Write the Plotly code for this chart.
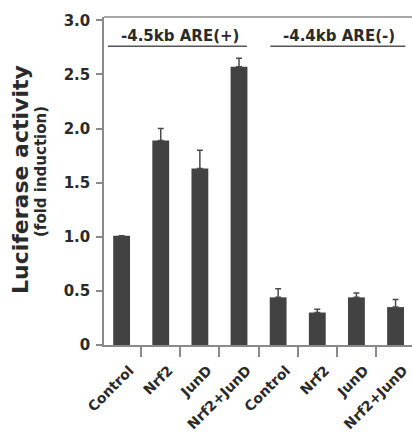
import plotly.graph_objects as go

labels = ["Control", "Nrf2", "JunD", "Nrf2+JunD", "Control", "Nrf2", "JunD", "Nrf2+JunD"]
values = [1.01, 1.89, 1.63, 2.57, 0.44, 0.30, 0.44, 0.35]
errors = [None, 0.11, 0.17, 0.08, 0.08, 0.03, 0.04, 0.07]
y_ticks = [0, 0.5, 1.0, 1.5, 2.0, 2.5, 3.0]
y_ticktext = ["0", "0.5", "1.0", "1.5", "2.0", "2.5", "3.0"]
groups = ["-4.5kb ARE(+)", "-4.4kb ARE(-)"]

xs = list(range(len(labels)))
FONT = "DejaVu Sans, sans-serif"
AX = "#8a8a8a"
TXT = "#2a2a2a"

W, H = 412, 432
L, R, T, B = 104, 0, 17, 87
pw, ph = W - L - R, H - T - B

fig = go.Figure()
fig.add_trace(go.Bar(
    x=xs, y=values, width=0.43,
    marker=dict(color="#424242", line=dict(width=0)),
    error_y=dict(type="data", array=errors, arrayminus=[0]*len(errors),
                 symmetric=False, color="#4a4a4a", thickness=1.5, width=3),
    showlegend=False,
))

# group headers with underline
fig.add_annotation(x=1.5, y=2.85, xref="x", yref="y", text="<b>" + groups[0] + "</b>",
                   showarrow=False, font=dict(family=FONT, size=15, color=TXT))
fig.add_annotation(x=5.55, y=2.85, xref="x", yref="y", text="<b>" + groups[1] + "</b>",
                   showarrow=False, font=dict(family=FONT, size=15, color=TXT))
fig.add_shape(type="line", xref="x", yref="y", x0=-0.35, x1=3.2, y0=2.76, y1=2.76,
              line=dict(color="#555555", width=1.5))
fig.add_shape(type="line", xref="x", yref="y", x0=3.8, x1=7.25, y0=2.76, y1=2.76,
              line=dict(color="#555555", width=1.5))
# top frame line
fig.add_shape(type="line", xref="paper", yref="paper", x0=0, x1=1, y0=1, y1=1,
              line=dict(color=AX, width=1.5))

def px(xp, yp):
    return (xp - L) / pw, (H - yp - B) / ph

ax1, ay1 = px(20, 180)
ax2, ay2 = px(41, 171)
fig.add_annotation(x=ax1, y=ay1, xref="paper", yref="paper", text="<b>Luciferase activity</b>",
                   textangle=-90, showarrow=False, xanchor="center", yanchor="middle",
                   font=dict(family=FONT, size=22, color=TXT))
fig.add_annotation(x=ax2, y=ay2, xref="paper", yref="paper", text="<b>(fold induction)</b>",
                   textangle=-90, showarrow=False, xanchor="center", yanchor="middle",
                   font=dict(family=FONT, size=15, color=TXT))

fig.update_layout(
    width=W, height=H,
    margin=dict(l=L, r=R, t=T, b=B, pad=0, autoexpand=False),
    paper_bgcolor="white", plot_bgcolor="white",
    font=dict(family=FONT, color=TXT),
    bargap=0.5,
)
fig.update_xaxes(
    range=[-0.45, 7.42], automargin=False,
    tickmode="array", tickvals=xs, ticktext=["<b>" + l + "</b>" for l in labels],
    tickangle=-45, ticks="", ticklabelshift=8, ticklabelstandoff=10,
    tickfont=dict(family=FONT, size=14, color=TXT),
    showline=True, linecolor=AX, linewidth=1.5, showgrid=False, zeroline=False,
    minor=dict(ticks="outside", tickmode="array",
               tickvals=[i - 0.5 for i in range(len(labels) + 1)],
               ticklen=10, tickcolor=AX, tickwidth=1.5, showgrid=False),
)
fig.update_yaxes(
    range=[0, 3.03], automargin=False,
    tickmode="array", tickvals=y_ticks, ticktext=["<b>" + t + "</b>" for t in y_ticktext],
    ticks="outside", ticklen=6, tickcolor=AX, tickwidth=1.5, ticklabelstandoff=3,
    tickfont=dict(family=FONT, size=15, color=TXT),
    showline=True, linecolor=AX, linewidth=1.5, showgrid=False, zeroline=False,
)

fig.write_html("out.html", config={"displayModeBar": False},
               post_script="document.body.style.margin='0';")
